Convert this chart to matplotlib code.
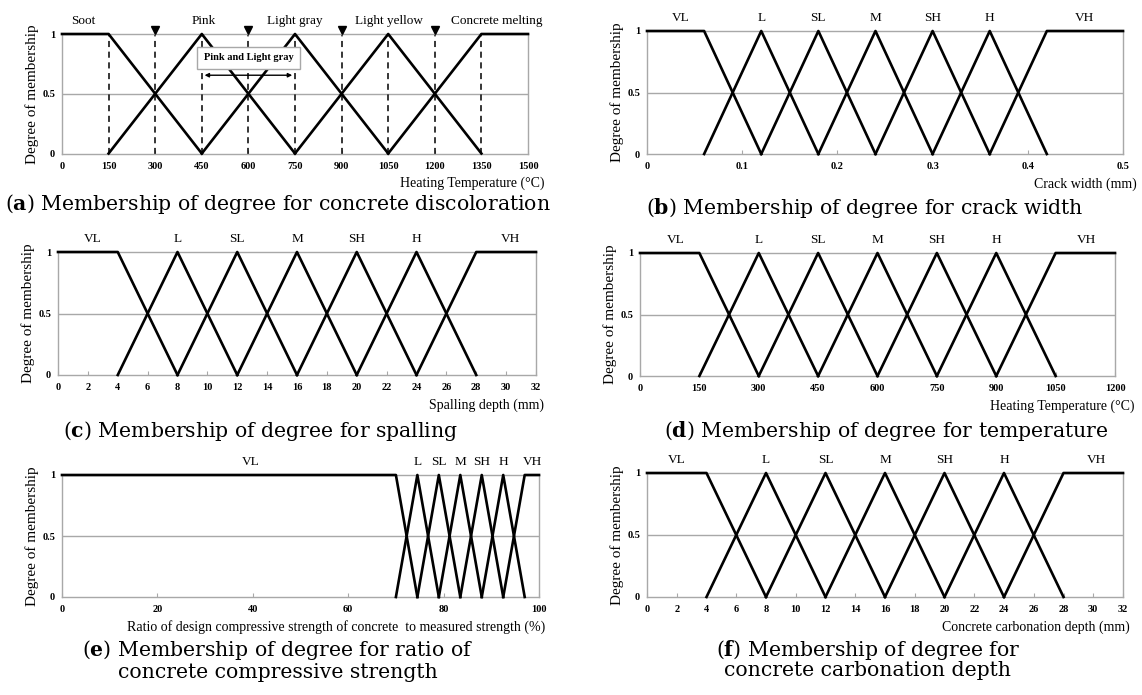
import matplotlib.pyplot as plt

plt.rcParams['font.family'] = 'Liberation Serif'
plt.rcParams['mathtext.fontset'] = 'custom'
plt.rcParams['mathtext.rm'] = 'DejaVu Serif'
plt.rcParams['mathtext.bf'] = 'DejaVu Serif:bold'

# (a) concrete discoloration
a_peaks = [150, 450, 750, 1050, 1350]
a_names = ["Soot", "Pink", "Light gray", "Light yellow", "Concrete melting"]
a_name_x = [67, 455, 751, 1052, 1400]
a_dashed = [150, 300, 450, 600, 750, 900, 1050, 1200, 1350]
a_marks = [300, 600, 900, 1200]
a_ticks = [0, 150, 300, 450, 600, 750, 900, 1050, 1200, 1350, 1500]

# (b) crack width
b_peaks = [0.06, 0.12, 0.18, 0.24, 0.30, 0.36, 0.42]
b_ticks = [0, 0.1, 0.2, 0.3, 0.4, 0.5]
b_name_x = [0.035, 0.12, 0.18, 0.24, 0.30, 0.36, 0.46]

# (c) spalling depth
c_peaks = [4, 8, 12, 16, 20, 24, 28]
c_ticks = list(range(0, 33, 2))
c_name_x = [2.3, 8, 12, 16, 20, 24, 30.3]

# (d) temperature
d_peaks = [150, 300, 450, 600, 750, 900, 1050]
d_ticks = [0, 150, 300, 450, 600, 750, 900, 1050, 1200]
d_name_x = [90, 300, 450, 600, 750, 900, 1127]

# (e) strength ratio
e_peaks = [70, 74.5, 79, 83.5, 88, 92.5, 97]
e_ticks = [0, 20, 40, 60, 80, 100]
e_name_x = [39.5, 74.5, 79, 83.5, 88, 92.5, 98.6]

# (f) carbonation depth
f_peaks = [4, 8, 12, 16, 20, 24, 28]
f_ticks = list(range(0, 33, 2))
f_name_x = [2.0, 8, 12, 16, 20, 24, 30.2]

levels = ["VL", "L", "SL", "M", "SH", "H", "VH"]

GREY = "#a8a8a8"
W, H = 1142, 695


def member_sets(ax, peaks, xmax):
    # left shoulder, triangles, right shoulder
    ax.plot([0, peaks[0], peaks[1]], [1, 1, 0], color="black", lw=1.9, clip_on=False, zorder=4)
    for k in range(1, len(peaks) - 1):
        ax.plot([peaks[k - 1], peaks[k], peaks[k + 1]], [0, 1, 0], color="black", lw=1.9,
                clip_on=False, zorder=4)
    ax.plot([peaks[-2], peaks[-1], xmax], [0, 1, 1], color="black", lw=1.9, clip_on=False, zorder=4)


def panel(x0, x1, ytop, ybot):
    # pixel box -> axes
    return fig.add_axes([x0 / W, 1 - ybot / H, (x1 - x0) / W, (ybot - ytop) / H])


def style(ax, ticks, xlabel, names, name_x, overhang):
    xmax = ticks[-1]
    ax.set_xlim(0, xmax)
    ax.set_ylim(0, 1)
    ax.set_xticks(ticks)
    ax.set_xticklabels([str(t) for t in ticks], fontsize=7.5, fontweight="bold")
    ax.set_yticks([0, 0.5, 1])
    ax.set_yticklabels(["0", "0.5", "1"], fontsize=7.5, fontweight="bold")
    ax.tick_params(axis="x", direction="in", length=3, color=GREY, pad=6)
    ax.tick_params(axis="y", length=0, pad=5)
    for s in ["left", "bottom", "right", "top"]:
        ax.spines[s].set_color(GREY)
        ax.spines[s].set_linewidth(1.0)
    ax.axhline(0.5, color=GREY, lw=1.0, zorder=1)
    ax.set_ylabel("Degree of membership", fontsize=11, labelpad=2)
    ax.annotate(xlabel, xy=(1, 0), xycoords="axes fraction", xytext=(overhang * 0.72, -21.5),
                textcoords="offset points", ha="right", va="center", fontsize=10)
    for n, x in zip(names, name_x):
        ax.text(x, 1.06, n, ha="center", va="bottom", fontsize=9.5)


fig = plt.figure(figsize=(11.42, 6.95), dpi=100)

# (a)
ax = panel(62, 528, 34, 153.5)
for x in a_dashed:
    ax.plot([x, x], [0, 1], color="black", lw=1.1, ls=(0, (4, 3)), zorder=2)
member_sets(ax, a_peaks, a_ticks[-1])
ax.plot(a_marks, [1.035] * len(a_marks), "v", color="black", ms=6, clip_on=False, zorder=5)
ax.text(600, 0.80, "Pink and Light gray", ha="center", va="center", fontsize=7.5, fontweight="bold",
        zorder=6, bbox=dict(boxstyle="square,pad=0.6", fc="white", ec=GREY, lw=1.0))
ax.annotate("", xy=(450, 0.655), xytext=(750, 0.655),
            arrowprops=dict(arrowstyle="<|-|>", color="black", lw=1.0, mutation_scale=6), zorder=6)
style(ax, a_ticks, "Heating Temperature (°C)", a_names, a_name_x, 17)

# (b)
ax = panel(647, 1123, 31, 154)
member_sets(ax, b_peaks, b_ticks[-1])
style(ax, b_ticks, "Crack width (mm)", levels, b_name_x, 14)

# (c)
ax = panel(58, 536, 252, 375)
member_sets(ax, c_peaks, c_ticks[-1])
style(ax, c_ticks, "Spalling depth (mm)", levels, c_name_x, 8)

# (d)
ax = panel(640, 1115, 253, 376)
member_sets(ax, d_peaks, d_ticks[-1])
style(ax, d_ticks, "Heating Temperature (°C)", levels, d_name_x, 19)

# (e)
ax = panel(62, 539, 475, 597)
member_sets(ax, e_peaks, e_ticks[-1])
style(ax, e_ticks, "Ratio of design compressive strength of concrete  to measured strength (%)",
      levels, e_name_x, 6)

# (f)
ax = panel(647, 1123, 473, 597)
member_sets(ax, f_peaks, f_ticks[-1])
style(ax, f_ticks, "Concrete carbonation depth (mm)", levels, f_name_x, 7)

# captions
cap = dict(ha="center", va="center", fontsize=14.7, family="DejaVu Serif")
fig.text(278 / W, 1 - 204 / H, r"($\mathbf{a}$) Membership of degree for concrete discoloration", **cap)
fig.text(865 / W, 1 - 208 / H, r"($\mathbf{b}$) Membership of degree for crack width", **cap)
fig.text(261 / W, 1 - 431 / H, r"($\mathbf{c}$) Membership of degree for spalling", **cap)
fig.text(886 / W, 1 - 431 / H, r"($\mathbf{d}$) Membership of degree for temperature", **cap)
fig.text(278 / W, 1 - 650 / H, r"($\mathbf{e}$) Membership of degree for ratio of", **cap)
fig.text(278 / W, 1 - 673 / H, "concrete compressive strength", **cap)
fig.text(868 / W, 1 - 650 / H, r"($\mathbf{f}$) Membership of degree for", **cap)
fig.text(868 / W, 1 - 671 / H, "concrete carbonation depth", **cap)

fig.savefig("out.png", dpi=100)
